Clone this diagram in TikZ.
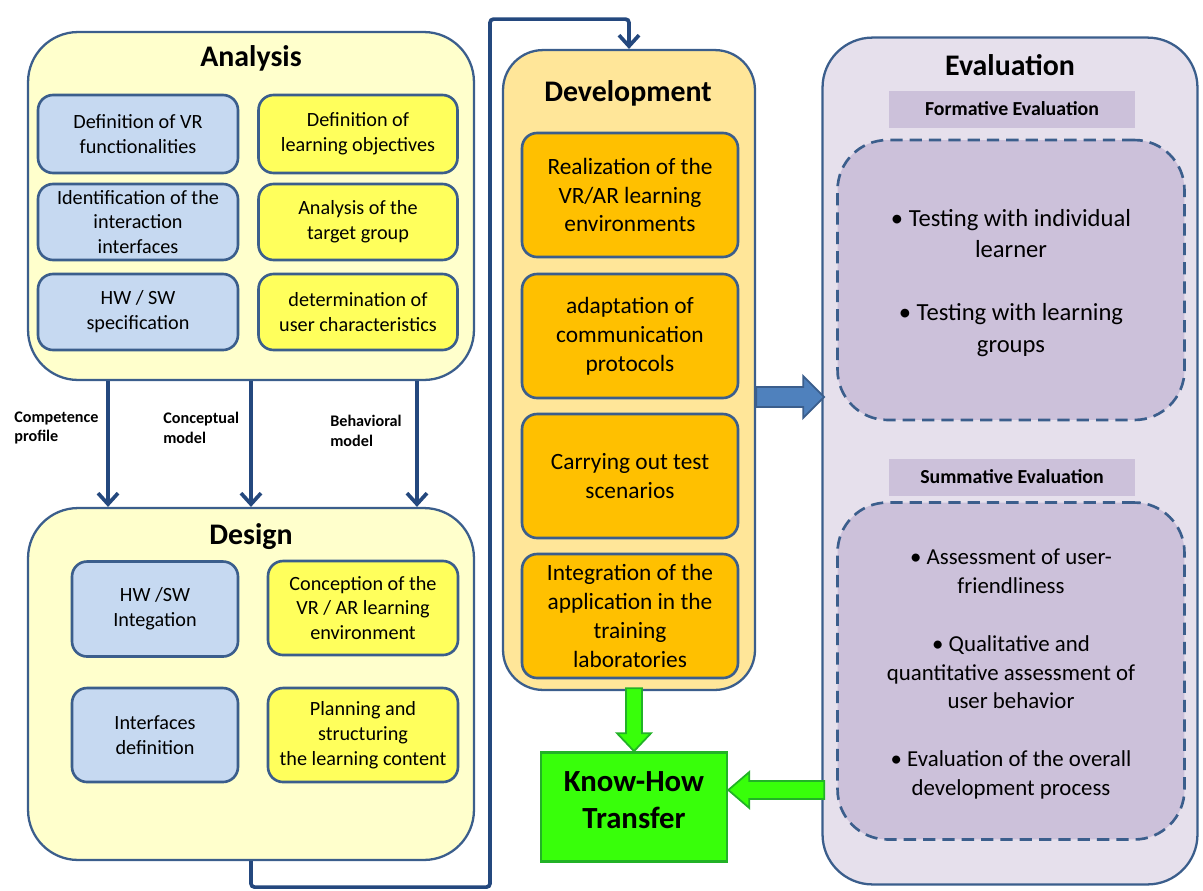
\documentclass[tikz,border=0pt]{standalone}
\usepackage{fontspec}
\setmainfont{Carlito}
\usepackage{tikz}
\usetikzlibrary{shapes,arrows.meta}

\definecolor{frame}{HTML}{3B5E8C}
\definecolor{wire}{HTML}{24487E}
\definecolor{paleyellow}{HTML}{FFFFCC}
\definecolor{boxblue}{HTML}{C6D9F1}
\definecolor{boxyellow}{HTML}{FFFF5C}
\definecolor{devfill}{HTML}{FFE699}
\definecolor{devbox}{HTML}{FFC000}
\definecolor{evalfill}{HTML}{E6E0EC}
\definecolor{evalbox}{HTML}{CCC1DA}
\definecolor{khgreen}{HTML}{38FF0A}
\definecolor{khedge}{HTML}{22B226}
\definecolor{flowblue}{HTML}{4F81BD}

\tikzstyle{phase} = [rectangle, draw=frame, line width=1.3pt, rounded corners=1cm, inner sep=0pt]
\tikzstyle{title} = [font=\bfseries\fontsize{17}{20}\selectfont]
\tikzstyle{task} = [rectangle, draw=frame, line width=1.5pt, rounded corners=0.3cm, align=center, inner sep=0pt, font=\fontsize{11.5}{14.2}\selectfont]
\tikzstyle{tech} = [task, fill=boxblue]
\tikzstyle{didactic} = [task, fill=boxyellow]
\tikzstyle{devstep} = [task, fill=devbox, minimum width=4.32cm, minimum height=2.48cm, font=\fontsize{13.3}{16.4}\selectfont]
\tikzstyle{band} = [rectangle, fill=evalbox, minimum width=4.92cm, minimum height=0.74cm, font=\bfseries\fontsize{11.3}{13}\selectfont]
\tikzstyle{evalgroup} = [rectangle, draw=frame, dash pattern=on 7pt off 4pt, line width=1.5pt, fill=evalbox, rounded corners=1cm, minimum width=6.94cm, inner sep=0pt]
\tikzstyle{output} = [font=\bfseries\fontsize{9.2}{11.3}\selectfont, align=left, anchor=west, inner sep=0pt]
\tikzstyle{line} = [draw=wire, line width=2.1pt, -{Straight Barb[length=0.22cm, width=0.4cm]}]
\tikzstyle{fatgreen} = [draw=khedge, line width=1pt, fill=khgreen]
\tikzstyle{fatblue} = [draw=frame, line width=1pt, fill=flowblue]

\begin{document}
\begin{tikzpicture}[x=0.02cm, y=-0.02cm]
\useasboundingbox (0,0) rectangle (1203,890);

% analysis
\node [phase, fill=paleyellow, minimum width=8.92cm, minimum height=6.96cm] at (251,206) (ana) {};
\node [title] at (251,58) (anaT) {Analysis};
\node [tech, minimum width=4cm, minimum height=1.56cm] at (138,134) (vrfun) {Definition of VR\\functionalities};
\node [tech, minimum width=4cm, minimum height=1.52cm] at (138,222) (iface) {Identification of the\\interaction\\interfaces};
\node [tech, minimum width=4cm, minimum height=1.52cm] at (138,312) (hwspec) {HW / SW\\specification};
\node [didactic, minimum width=3.98cm, minimum height=1.56cm] at (358,134) (objectives) {Definition of\\learning objectives};
\node [didactic, minimum width=3.98cm, minimum height=1.52cm] at (358,222) (target) {Analysis of the\\target group};
\node [didactic, minimum width=3.98cm, minimum height=1.52cm] at (358,312) (users) {determination of\\user characteristics};

% design
\node [phase, fill=paleyellow, minimum width=8.92cm, minimum height=7.04cm] at (251,684) (des) {};
\node [title] at (251,537) (desT) {Design};
\node [tech, minimum width=3.32cm, minimum height=1.9cm] at (155,609) (hwint) {HW /SW\\Integation};
\node [tech, minimum width=3.32cm, minimum height=1.88cm] at (155,735) (ifdef) {Interfaces\\definition};
\node [didactic, minimum width=3.8cm, minimum height=1.88cm] at (363,608) (concept) {Conception of the\\VR / AR learning\\environment};
\node [didactic, minimum width=3.8cm, minimum height=1.88cm] at (363,735) (content) {Planning and\\structuring\\the learning content};

% models handed from analysis to design
\node [output] at (14,428) (competence) {Competence\\profile};
\node [output] at (163,428) (conceptual) {Conceptual\\model};
\node [output] at (330,431) (behavioral) {Behavioral\\model};
\path [line] ([xshift=-2.86cm]ana.south) to ([xshift=-2.86cm]des.north);
\path [line] (ana.south) to (des.north);
\path [line] ([xshift=3.32cm]ana.south) to ([xshift=3.32cm]des.north);

% development
\node [phase, fill=devfill, rounded corners=0.8cm, minimum width=5.04cm, minimum height=12.8cm] at (629,370) (dev) {};
\node [title] at (628,93) (devT) {Development};
\node [devstep] at (630,195) (realize) {Realization of the\\VR/AR learning\\environments};
\node [devstep] at (630,336) (protocols) {adaptation of\\communication\\protocols};
\node [devstep] at (630,476) (scenarios) {Carrying out test\\scenarios};
\node [devstep] at (630,616) (integrate) {Integration of the\\application in the\\training\\laboratories};

\path [line, rounded corners=2pt] (des.south) -- ++(0,26) -| ++(239,-868) -| (dev.north);

% evaluation
\node [phase, fill=evalfill, minimum width=7.5cm, minimum height=16.94cm] at (1010,461) (eval) {};
\node [title] at (1010,65) (evalT) {Evaluation};
\node [band] at (1012,109) (formative) {Formative Evaluation};
\node [evalgroup, minimum height=5.6cm] at (1011,280) (formgroup) {};
\node [align=center, font=\fontsize{14}{17.9}\selectfont] at (1011,283) (formtext)
  {\textbullet\ Testing with individual\\learner\\[17.9pt]\textbullet\ Testing with learning\\groups};
\node [band] at (1012,477) (summative) {Summative Evaluation};
\node [evalgroup, minimum height=6.74cm] at (1011,671) (sumgroup) {};
\node [align=center, font=\fontsize{13}{16.5}\selectfont] at (1011,674) (sumtext)
  {\textbullet\ Assessment of user-\\friendliness\\[16.5pt]\textbullet\ Qualitative and\\quantitative assessment of\\user behavior\\[16.5pt]\textbullet\ Evaluation of the overall\\development process};

% know-how transfer
\node [rectangle, draw=khedge, line width=1.5pt, fill=khgreen, minimum width=3.72cm, minimum height=2.18cm] at (634,807) (kh) {};
\node [align=center, font=\bfseries\fontsize{17.5}{21}\selectfont] at (634,800) (khtext) {Know-How\\Transfer};

% block arrows
\draw [fatblue] ([yshift=-0.34cm]dev.east) -- ++(47,0) -- ++(0,-11) -- ++(21,21) -- ++(-21,21) -- ++(0,-11) -- ++(-47,0) -- cycle;
\draw [fatgreen] (kh.north) -- ++(-17,-18) -- ++(9,0) -- ++(0,-45) -- ++(16,0) -- ++(0,45) -- ++(9,0) -- cycle;
\draw [fatgreen] ([yshift=0.34cm]kh.east) -- ++(21,-18) -- ++(0,9) -- ++(75,0) -- ++(0,18) -- ++(-75,0) -- ++(0,9) -- cycle;

\end{tikzpicture}
\end{document}
